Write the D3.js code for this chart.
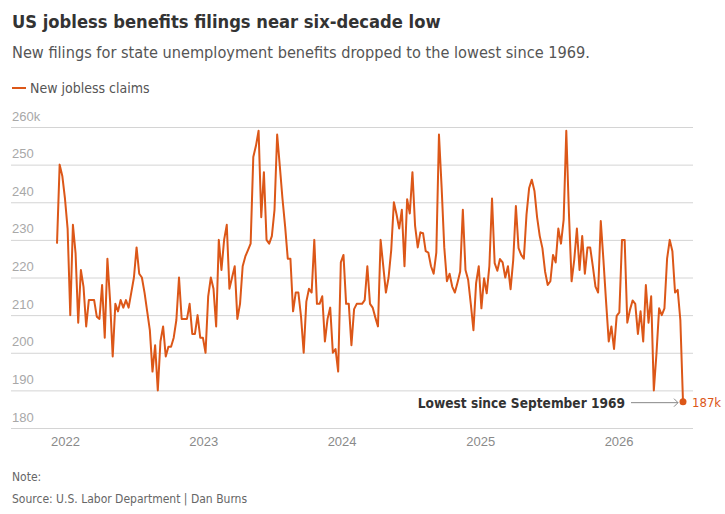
<!DOCTYPE html>
<meta charset="utf-8">
<head>
<style>
body { margin: 0; background: #fff; }
svg { display: block; font-family: "Liberation Sans Narrow", "DejaVu Sans Condensed", Roboto, sans-serif; }
.title { font-size: 18.2px; font-weight: bold; fill: #333; }
.subtitle { font-size: 16.2px; fill: #555; }
.legend text { font-size: 14px; fill: #555; }
.grid line { stroke: #d4d4d4; stroke-width: 1px; }
.grid .domain { display: none; }
.grid text { font-size: 13px; fill: #a8a8a8; }
.xaxis text { font-size: 13px; fill: #8a8a8a; }
.xaxis line, .xaxis .domain { display: none; }
.foot { font-size: 12px; fill: #666; }
.note { font-size: 13.6px; font-weight: bold; fill: #333; }
</style>
<script src="https://d3js.org/d3.v7.min.js"></script>
</head>
<body>
<svg width="725" height="514"></svg>
<script>

// weekly initial claims, thousands, first week ending 2021-12-11
var startDate = new Date(2021, 11, 11);
var claims = [
  229, 250, 247, 241, 233, 210, 234, 226.5, 208, 222,
  217.5, 207, 214, 214, 214, 209.6, 209, 218, 204, 225,
  214, 199, 213, 211, 214, 212, 214, 212, 216, 220,
  228, 221, 220, 216, 211, 206, 195, 202, 190, 203,
  207, 199, 201.6, 201.6, 204, 208.7, 220, 209, 209, 209,
  213, 205, 205, 210, 204, 204, 200, 215, 220, 217,
  207, 230, 222, 230, 234, 217, 220, 223, 209, 213,
  223, 225.6, 227.3, 229, 252, 255, 259, 236, 248, 230,
  229, 231, 238, 258, 249.6, 241, 233.6, 225, 225, 211,
  216, 216, 209.6, 200, 213.6, 217, 216, 230, 213, 213,
  215, 203, 209, 212, 200, 201, 195, 224, 226, 213,
  213, 202, 211.6, 213, 213, 213, 214, 223, 213, 212,
  209.4, 207, 230, 223, 216, 220, 227.3, 240, 236.8, 233,
  238, 223, 240.8, 237, 248, 233.7, 228, 232, 231.8, 227,
  226.6, 223, 221, 226.6, 258, 244, 228, 219, 221, 217.6,
  216, 218.7, 221.6, 238, 222, 219.4, 213, 206, 218.5, 223,
  211.8, 219.8, 215.8, 223, 241, 223.8, 221.8, 224.9, 224, 220,
  223, 216.9, 224.7, 239, 227.8, 226, 225, 236.7, 243.8, 246,
  243, 236, 231, 227.8, 221.6, 218, 219, 226, 224, 233,
  229, 235.3, 259, 237, 219, 224.7, 233, 222, 231, 221,
  228, 228, 223, 217.6, 216, 235, 224.7, 213.6, 203, 207,
  201, 209.8, 210.7, 230, 230, 208, 211.4, 213.9, 213, 205,
  211, 203, 218, 208, 215, 190, 199.8, 211.8, 210, 211.8,
  225, 230, 227, 216, 216.7, 208.7, 187
];
var yTicks = [180, 190, 200, 210, 220, 230, 240, 250, 260];
var yearTicks = [2022, 2023, 2024, 2025, 2026];

var data = claims.map(function(v, i) {
  return { date: d3.timeDay.offset(startDate, i * 7), value: v };
});

var svg = d3.select("svg");
var lineColor = "#dc5718";

var x = d3.scaleTime()
    .domain(d3.extent(data, function(d) { return d.date; }))
    .range([57, 683]);

var y = d3.scaleLinear()
    .domain([180, 260])
    .range([428, 127]);

svg.append("text").attr("class", "title").attr("x", 12).attr("y", 28)
    .text("US jobless benefits filings near six-decade low");
svg.append("text").attr("class", "subtitle").attr("x", 12).attr("y", 58)
    .text("New filings for state unemployment benefits dropped to the lowest since 1969.");

var legend = svg.append("g").attr("class", "legend");
legend.append("line").attr("x1", 12).attr("x2", 26).attr("y1", 88).attr("y2", 88)
    .attr("stroke", lineColor).attr("stroke-width", 2);
legend.append("text").attr("x", 30).attr("y", 93).text("New jobless claims");

// gridlines + y labels
svg.append("g")
    .attr("class", "grid")
    .attr("transform", "translate(11,0)")
    .call(d3.axisRight(y).tickValues(yTicks).tickSize(682)
      .tickFormat(function(d) { return d === 260 ? "260k" : d; }))
    .call(function(g) {
      g.selectAll("text").attr("x", 1).attr("dy", -7).attr("text-anchor", "start");
      g.selectAll("line").filter(function(d) { return d === 180; })
        .attr("stroke", "#dcdcdc").attr("stroke-width", 2);
    });

svg.append("g")
    .attr("class", "xaxis")
    .attr("transform", "translate(0,428)")
    .call(d3.axisBottom(x)
      .tickValues(yearTicks.map(function(yr) { return new Date(yr, 0, 1); }))
      .tickFormat(d3.timeFormat("%Y")).tickSize(0).tickPadding(9));

var line = d3.line()
    .x(function(d) { return x(d.date); })
    .y(function(d) { return y(d.value); });

svg.append("path")
    .datum(data)
    .attr("fill", "none")
    .attr("stroke", lineColor)
    .attr("stroke-width", 2)
    .attr("stroke-linejoin", "round")
    .attr("d", line);

// last point annotation
var last = data[data.length - 1];
var lx = x(last.date), ly = y(last.value);

svg.append("line")
    .attr("x1", 631).attr("x2", lx - 5).attr("y1", ly + 1).attr("y2", ly + 1)
    .attr("stroke", "#888").attr("stroke-width", 1);
svg.append("path")
    .attr("d", "M" + (lx - 9) + "," + (ly - 3) + "L" + (lx - 5) + "," + (ly + 1) + "L" + (lx - 9) + "," + (ly + 5))
    .attr("fill", "none").attr("stroke", "#888").attr("stroke-width", 1);

svg.append("circle").attr("cx", lx).attr("cy", ly).attr("r", 3.5).attr("fill", lineColor);

svg.append("text").attr("class", "note")
    .attr("x", 625).attr("y", ly + 6).attr("text-anchor", "end")
    .text("Lowest since September 1969");

svg.append("text")
    .attr("x", lx + 9).attr("y", ly + 5)
    .attr("font-size", 13).attr("fill", lineColor)
    .text(last.value + "k");

svg.append("text").attr("class", "foot").attr("x", 12).attr("y", 481).text("Note:");
svg.append("text").attr("class", "foot").attr("x", 12).attr("y", 503)
    .text("Source: U.S. Labor Department | Dan Burns");

</script>
</body>
